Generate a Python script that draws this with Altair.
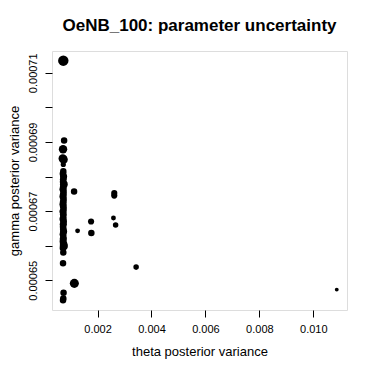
import altair as alt
import pandas as pd

# theta posterior variance, gamma posterior variance, point size (cex)
theta = [
    0.00073, 0.00076, 0.00072, 0.00071, 0.00073, 0.00075,
    0.00073, 0.00073, 0.00072, 0.00074, 0.00073, 0.00072, 0.00075, 0.00073,
    0.00072, 0.00074, 0.00073, 0.00072, 0.00074, 0.00073, 0.00072, 0.00073,
    0.00074, 0.00072, 0.00073, 0.00073, 0.00072, 0.00074, 0.00073, 0.00072,
    0.00073, 0.00074, 0.00072, 0.00073, 0.00073, 0.00072, 0.00074, 0.00075,
    0.00072,
    0.00073, 0.00072, 0.00074, 0.00073, 0.00072,
    0.00113, 0.00126, 0.00176, 0.00177, 0.00262, 0.00262, 0.00259, 0.00267,
    0.00343, 0.00114, 0.01087,
]
gamma = [
    0.0007135, 0.0006904, 0.0006879, 0.0006852, 0.0006850, 0.0006849,
    0.0006835, 0.0006815, 0.0006808, 0.0006800, 0.0006792, 0.0006785, 0.0006778, 0.0006770,
    0.0006763, 0.0006756, 0.0006749, 0.0006742, 0.0006735, 0.0006728, 0.0006720, 0.0006713,
    0.0006706, 0.0006699, 0.0006691, 0.0006684, 0.0006677, 0.0006670, 0.0006662, 0.0006655,
    0.0006648, 0.0006641, 0.0006633, 0.0006626, 0.0006619, 0.0006612, 0.0006605, 0.0006599,
    0.0006593,
    0.0006580, 0.0006549, 0.0006464, 0.0006447, 0.0006442,
    0.0006757, 0.0006643, 0.0006670, 0.0006637, 0.0006752, 0.0006745, 0.0006680, 0.0006660,
    0.0006538, 0.0006491, 0.0006473,
]
cex = [
    1.6, 1.0, 1.3, 1.3, 1.2, 1.2,
    0.8, 1.0, 1.05, 1.1, 1.05, 1.0, 1.2, 1.05,
    1.1, 1.0, 1.05, 1.1, 1.0, 1.05, 1.1, 1.05,
    1.0, 1.1, 1.05, 1.0, 1.1, 1.05, 1.1, 1.0,
    1.05, 1.1, 1.05, 1.0, 1.1, 1.05, 1.15, 1.25,
    1.05,
    1.0, 1.0, 1.0, 1.0, 1.0,
    1.0, 0.75, 0.95, 1.0, 0.95, 0.95, 0.75, 0.85,
    0.85, 1.4, 0.6,
]

x_ticks = [0.002, 0.004, 0.006, 0.008, 0.010]
y_ticks = [0.00065, 0.00066, 0.00067, 0.00068, 0.00069, 0.00070, 0.00071]
y_labeled = [0.00065, 0.00067, 0.00069, 0.00071]

df = pd.DataFrame({"theta": theta, "gamma": gamma, "cex": cex})

font = "Liberation Sans"

chart = (
    alt.Chart(df)
    .mark_circle(color="black", opacity=1)
    .encode(
        x=alt.X(
            "theta:Q",
            title="theta posterior variance",
            scale=alt.Scale(domain=[0.000311, 0.01125], nice=False, zero=False),
            axis=alt.Axis(
                values=x_ticks, format=".3f", grid=False, domain=False,
                tickSize=7, tickColor="black", labelPadding=6,
                labelFontSize=11, labelFont=font, labelColor="black",
                titleFontSize=13, titleFont=font, titleFontWeight="normal",
                titleColor="black", titlePadding=11,
            ),
        ),
        y=alt.Y(
            "gamma:Q",
            title="gamma posterior variance",
            scale=alt.Scale(domain=[0.0006414, 0.0007163], nice=False, zero=False),
            axis=alt.Axis(
                values=y_ticks, grid=False, domain=False,
                labelExpr="indexof([" + ",".join(str(round(v * 1e5)) for v in y_labeled)
                + "], round(datum.value*1e5)) >= 0 ? format(datum.value, '.5f') : ''",
                tickSize=7, tickColor="black", labelPadding=7,
                labelAngle=-90, labelAlign="center", labelBaseline="bottom",
                labelFontSize=11, labelFont=font, labelColor="black",
                titleFontSize=13, titleFont=font, titleFontWeight="normal",
                titleColor="black", titlePadding=6,
            ),
        ),
        size=alt.Size(
            "cex:Q",
            scale=alt.Scale(type="pow", exponent=2, domain=[0, 1.6], range=[0, 108]),
            legend=None,
        ),
    )
    .properties(
        width=295,
        height=259,
        title=alt.TitleParams(
            "OeNB_100: parameter uncertainty",
            fontSize=17, font=font, fontWeight="bold", color="black",
            anchor="middle", offset=16,
        ),
        autosize=alt.AutoSizeParams(type="none"),
        padding={"left": 44, "top": 43, "right": 19, "bottom": 56},
    )
    .configure_view(stroke="black", strokeWidth=1)
    .configure(background="white")
)

chart.save("out.html", embed_options={"renderer": "svg", "actions": False})
